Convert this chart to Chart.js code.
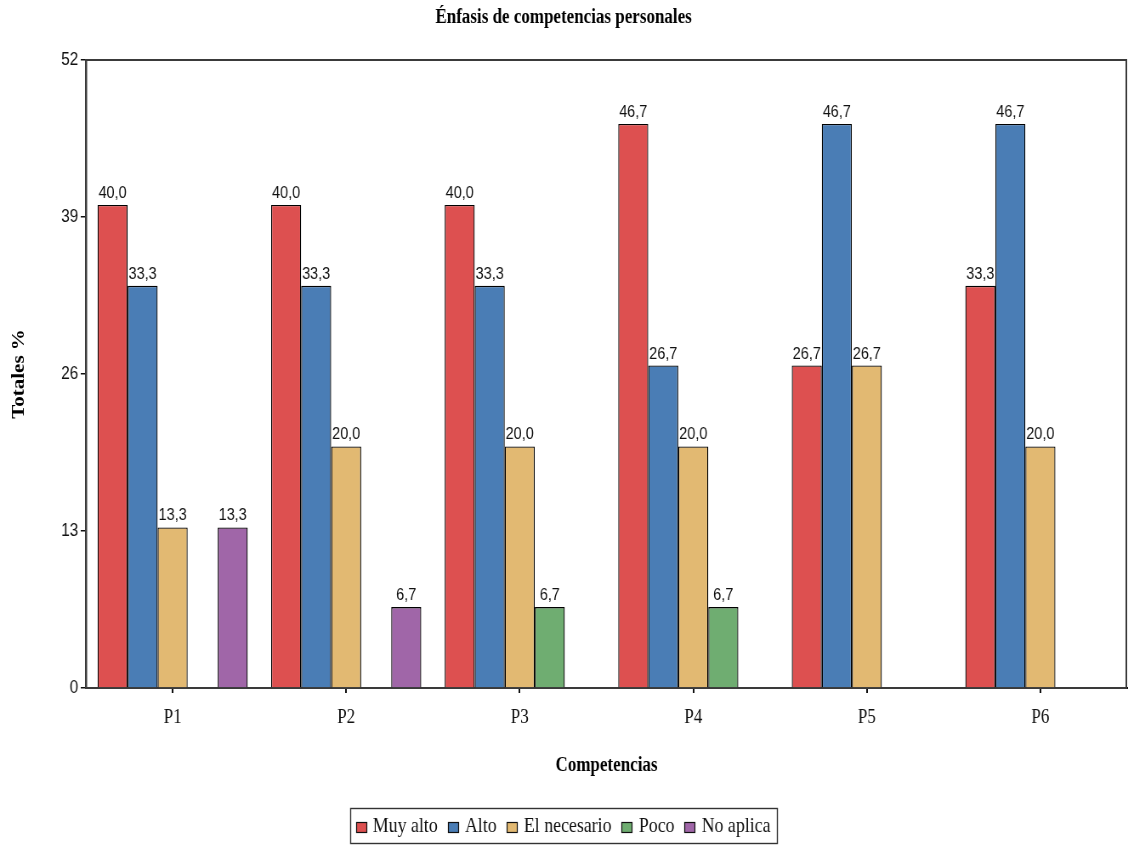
<!DOCTYPE html>
<html>
<head>
<meta charset="utf-8">
<script src="https://cdn.jsdelivr.net/npm/chart.js@4"></script>
<style>
  html, body { margin: 0; padding: 0; background: #fff; overflow: hidden; }
  #wrap { width: 1128px; height: 845px; position: relative; }
</style>
</head>
<body>
<div id="wrap">
  <!-- drawn on a wider backing canvas and shown narrower, for a condensed look -->
  <canvas id="c" width="1327" height="845" style="width:1128px;height:845px;display:block"></canvas>
</div>
<script>
// Competencias y porcentajes por nivel de énfasis
const categories = ['P1', 'P2', 'P3', 'P4', 'P5', 'P6'];
const muyAlto     = [40.0, 40.0, 40.0, 46.7, 26.7, 33.3];
const alto        = [33.3, 33.3, 33.3, 26.7, 46.7, 46.7];
const elNecesario = [13.3, 20.0, 20.0, 20.0, 26.7, 20.0];
const poco        = [null, null, 6.7, 6.7, null, null];
const noAplica    = [13.3, 6.7, null, null, null, null];
const yTicks      = [0, 13, 26, 39, 52];

const SERIF = '"Liberation Serif", "DejaVu Serif", serif';
const SANS = '"Liberation Sans", Arial, sans-serif';

const fmt = v => v.toFixed(1).replace('.', ',');

// Marco completo del área de trazado
const framePlugin = {
  id: 'frame',
  beforeDatasetsDraw(chart) {
    const { ctx, chartArea: a } = chart;
    ctx.save();
    ctx.strokeStyle = '#3a3a3a';
    ctx.lineWidth = 2;
    ctx.strokeRect(a.left, a.top, a.right - a.left - 1, a.bottom - a.top);
    ctx.restore();
  }
};

// Etiquetas de valor sobre cada barra
const valueLabels = {
  id: 'valueLabels',
  afterDatasetsDraw(chart) {
    const { ctx } = chart;
    ctx.save();
    ctx.font = '17px ' + SANS;
    ctx.fillStyle = '#111';
    ctx.textAlign = 'center';
    ctx.textBaseline = 'alphabetic';
    chart.data.datasets.forEach((ds, i) => {
      chart.getDatasetMeta(i).data.forEach((bar, j) => {
        const v = ds.data[j];
        if (v == null) return;
        ctx.fillText(fmt(v), bar.x, bar.y - 7);
      });
    });
    ctx.restore();
  }
};

// Leyenda enmarcada bajo el eje
const boxedLegend = {
  id: 'boxedLegend',
  afterDraw(chart) {
    const { ctx } = chart;
    const sets = chart.data.datasets;
    ctx.save();
    ctx.font = '21px ' + SERIF;
    const sqW = 12, sqH = 10, gapSq = 8, gapItem = 12, padX = 7;
    const widths = sets.map(d => ctx.measureText(d.label).width);
    const total = widths.reduce((s, w) => s + sqW + gapSq + w, 0) + gapItem * (sets.length - 1) + padX * 2;
    const cx = chart.width / 2 - 1, top = 808, h = 35;
    let x = cx - total / 2;
    ctx.strokeStyle = '#333';
    ctx.lineWidth = 1.4;
    ctx.strokeRect(Math.round(x) + 0.5, top + 0.5, Math.round(total), h);
    x += padX;
    const my = top + h / 2 + 1;
    ctx.textBaseline = 'middle';
    ctx.textAlign = 'left';
    sets.forEach((d, i) => {
      const sy = Math.round(my - sqH / 2) + 0.5;
      ctx.fillStyle = d.backgroundColor;
      ctx.fillRect(Math.round(x) + 0.5, sy, sqW, sqH);
      ctx.strokeStyle = '#111';
      ctx.lineWidth = 1.2;
      ctx.strokeRect(Math.round(x) + 0.5, sy, sqW, sqH);
      x += sqW + gapSq;
      ctx.fillStyle = '#111';
      ctx.fillText(d.label, x, my);
      x += widths[i] + gapItem;
    });
    ctx.restore();
  }
};

const series = [
  { label: 'Muy alto',     data: muyAlto,     color: '#DD5050' },
  { label: 'Alto',         data: alto,        color: '#4A7DB5' },
  { label: 'El necesario', data: elNecesario, color: '#E2B972' },
  { label: 'Poco',         data: poco,        color: '#6FAD71' },
  { label: 'No aplica',    data: noAplica,    color: '#A066A8' }
];

new Chart(document.getElementById('c'), {
  type: 'bar',
  data: {
    labels: categories,
    datasets: series.map(s => ({
      label: s.label,
      data: s.data,
      backgroundColor: s.color,
      borderColor: '#000',
      borderWidth: 1.3,
      categoryPercentage: 0.865,
      barPercentage: 1.0
    }))
  },
  options: {
    responsive: false,
    animation: false,
    devicePixelRatio: 1,
    layout: { padding: { left: 0, right: 1, top: 0, bottom: 0 } },
    plugins: {
      legend: { display: false },
      tooltip: { enabled: false },
      title: {
        display: true,
        text: 'Énfasis de competencias personales',
        color: '#000',
        font: { family: SERIF, size: 20, weight: 'bold' },
        padding: { top: 6, bottom: 30 }
      }
    },
    scales: {
      x: {
        grid: { display: true, offset: false, drawOnChartArea: false, drawTicks: true, tickLength: 5, tickColor: '#111', lineWidth: 2 },
        border: { display: true, color: '#111', width: 2 },
        ticks: { color: '#111', font: { family: SERIF, size: 20 }, padding: 13, maxRotation: 0 },
        title: {
          display: true,
          text: 'Competencias',
          color: '#000',
          font: { family: SERIF, size: 20, weight: 'bold' },
          padding: { top: 0, bottom: 67 }
        },
        afterFit(s) { s.height = 157; }
      },
      y: {
        min: 0,
        max: 52,
        afterBuildTicks(s) { s.ticks = yTicks.map(v => ({ value: v })); },
        grid: { display: true, drawOnChartArea: false, drawTicks: true, tickLength: 6, tickColor: '#111', lineWidth: 1.5 },
        border: { display: true, color: '#111', width: 2.4 },
        ticks: { color: '#111', font: { family: SANS, size: 18 }, padding: 3 },
        title: {
          display: true,
          text: 'Totales %',
          color: '#000',
          font: { family: SERIF, size: 21, weight: 'bold' },
          padding: { top: 10, bottom: 0 }
        },
        afterFit(s) { s.width = 101; }
      }
    }
  },
  plugins: [framePlugin, valueLabels, boxedLegend]
});
</script>
</body>
</html>
